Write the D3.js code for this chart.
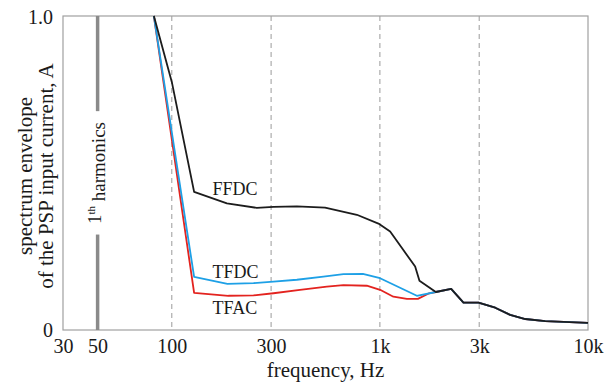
<!DOCTYPE html>
<html>
<head>
<meta charset="utf-8">
<script src="https://d3js.org/d3.v7.min.js"></script>
<style>
  body { margin: 0; background: #fff; }
  text { font-family: "Liberation Serif", "DejaVu Serif", serif; fill: #1a1a1a; }
</style>
</head>
<body>
<div id="chart"></div>
<script>
var width = 615;
var height = 383;
var margin = {top: 16, right: 27, bottom: 53, left: 63};

// frequencies (Hz) and envelope amplitudes
var ffdcFreq = [82, 100, 128, 184, 256, 308, 399, 545, 775, 984, 1120, 1276, 1477, 1549, 1857, 2200, 2521, 2977, 3582, 4227, 4993, 6227, 10000];
var ffdcAmp  = [1.0, 0.79, 0.44, 0.403, 0.389, 0.392, 0.394, 0.39, 0.367, 0.339, 0.314, 0.261, 0.202, 0.157, 0.121, 0.131, 0.087, 0.087, 0.071, 0.048, 0.035, 0.028, 0.023];

var tfdcFreq = [82, 128, 185, 247, 308, 399, 535, 668, 828, 1002, 1505, 1857, 2200, 2521, 2977, 3582, 4227, 4993, 6227, 10000];
var tfdcAmp  = [1.0, 0.169, 0.147, 0.149, 0.154, 0.16, 0.17, 0.178, 0.179, 0.165, 0.109, 0.121, 0.131, 0.087, 0.087, 0.071, 0.048, 0.035, 0.028, 0.023];

var tfacFreq = [82, 128, 187, 247, 308, 413, 556, 668, 865, 1002, 1161, 1348, 1522, 1725, 1857, 2200, 2521, 2977, 3582, 4227, 4993, 6227, 10000];
var tfacAmp  = [1.0, 0.118, 0.109, 0.11, 0.117, 0.128, 0.138, 0.143, 0.141, 0.128, 0.106, 0.099, 0.099, 0.117, 0.121, 0.131, 0.087, 0.087, 0.071, 0.048, 0.035, 0.028, 0.023];

var seriesNames  = ["FFDC", "TFDC", "TFAC"];
var seriesColors = ["#1c1c1c", "#1ea0e6", "#e3231f"];

// x tick positions (the "50" mark sits a bit left of true 50 Hz in the original)
var xTickValues = [30, 44, 100, 300, 1000, 3000, 10000];
var xTickLabels = ["30", "50", "100", "300", "1k", "3k", "10k"];
var gridValues  = [100, 300, 1000, 3000];
var harmonicAt  = 44;

var x = d3.scaleLog().domain([30, 10000]).range([margin.left, width - margin.right]);
var y = d3.scaleLinear().domain([0, 1]).range([height - margin.bottom, margin.top]);

var svg = d3.select("#chart").append("svg")
    .attr("width", width)
    .attr("height", height);

// dashed grid
svg.selectAll("line.grid")
    .data(gridValues)
    .enter()
    .append("line")
    .attr("class", "grid")
    .attr("x1", d => x(d)).attr("x2", d => x(d))
    .attr("y1", y(1)).attr("y2", y(0))
    .attr("stroke", "#9a9a9a")
    .attr("stroke-width", 1)
    .attr("stroke-dasharray", "5,4");

// frame
svg.append("rect")
    .attr("x", x(30)).attr("y", y(1))
    .attr("width", x(10000) - x(30))
    .attr("height", y(0) - y(1))
    .attr("fill", "none")
    .attr("stroke", "#a0a0a0")
    .attr("stroke-width", 1.2);

// 1st harmonic marker
svg.append("line")
    .attr("x1", x(harmonicAt)).attr("x2", x(harmonicAt))
    .attr("y1", y(1)).attr("y2", y(0.697))
    .attr("stroke", "#8a8a8a").attr("stroke-width", 3.5);
svg.append("line")
    .attr("x1", x(harmonicAt)).attr("x2", x(harmonicAt))
    .attr("y1", y(0.304)).attr("y2", y(0))
    .attr("stroke", "#8a8a8a").attr("stroke-width", 3.5);

var harm = svg.append("text")
    .attr("transform", "translate(" + (x(harmonicAt) + 3) + "," + 173 + ") rotate(-90)")
    .attr("text-anchor", "middle")
    .style("font-size", "19px");
harm.append("tspan").text("1");
harm.append("tspan").attr("dy", "-0.55em").style("font-size", "11px").text("th");
harm.append("tspan").attr("dy", "0.55em").text(" harmonics");

// axes
var xAxis = d3.axisBottom(x)
    .tickValues(xTickValues)
    .tickFormat((d, i) => xTickLabels[i])
    .tickSize(0)
    .tickPadding(9);
var gx = svg.append("g")
    .attr("transform", "translate(0," + y(0) + ")")
    .call(xAxis);
gx.select(".domain").remove();
gx.selectAll("text").style("font-size", "20px").attr("fill", "#1a1a1a");

var yAxis = d3.axisLeft(y)
    .tickValues([0, 1])
    .tickFormat(d => d === 0 ? "0" : "1.0")
    .tickSize(0)
    .tickPadding(10);
var gy = svg.append("g")
    .attr("transform", "translate(" + x(30) + ",0)")
    .call(yAxis);
gy.select(".domain").remove();
gy.selectAll("text").style("font-size", "20px").attr("fill", "#1a1a1a")
    .attr("dy", d => d === 0 ? "0.3em" : "0.38em");

// lines
var line = d3.line()
    .x(d => x(d[0]))
    .y(d => y(d[1]));

var series = [
  d3.zip(ffdcFreq, ffdcAmp),
  d3.zip(tfdcFreq, tfdcAmp),
  d3.zip(tfacFreq, tfacAmp)
];

// draw red, then blue, then black on top
[2, 1, 0].forEach(function(i) {
  svg.append("path")
    .datum(series[i])
    .attr("d", line)
    .attr("fill", "none")
    .attr("stroke", seriesColors[i])
    .attr("stroke-width", 1.8)
    .attr("stroke-linejoin", "round");
});

// series labels
var labelPos = [[157, 0.43], [157, 0.166], [157, 0.051]];
svg.selectAll("text.series")
    .data(seriesNames)
    .enter()
    .append("text")
    .attr("class", "series")
    .attr("x", (d, i) => x(labelPos[i][0]))
    .attr("y", (d, i) => y(labelPos[i][1]))
    .style("font-size", "18px")
    .text(d => d);

// axis titles
svg.append("text")
    .attr("x", (x(30) + x(10000)) / 2)
    .attr("y", 377)
    .attr("text-anchor", "middle")
    .style("font-size", "21px")
    .text("frequency, Hz");

var yt = svg.append("text")
    .attr("transform", "translate(32," + 176 + ") rotate(-90)")
    .attr("text-anchor", "middle")
    .style("font-size", "21px");
yt.append("tspan").attr("x", 0).attr("dy", 0).text("spectrum envelope");
yt.append("tspan").attr("x", 0).attr("dy", "1.0em").text("of the PSP input current, A");
</script>
</body>
</html>
